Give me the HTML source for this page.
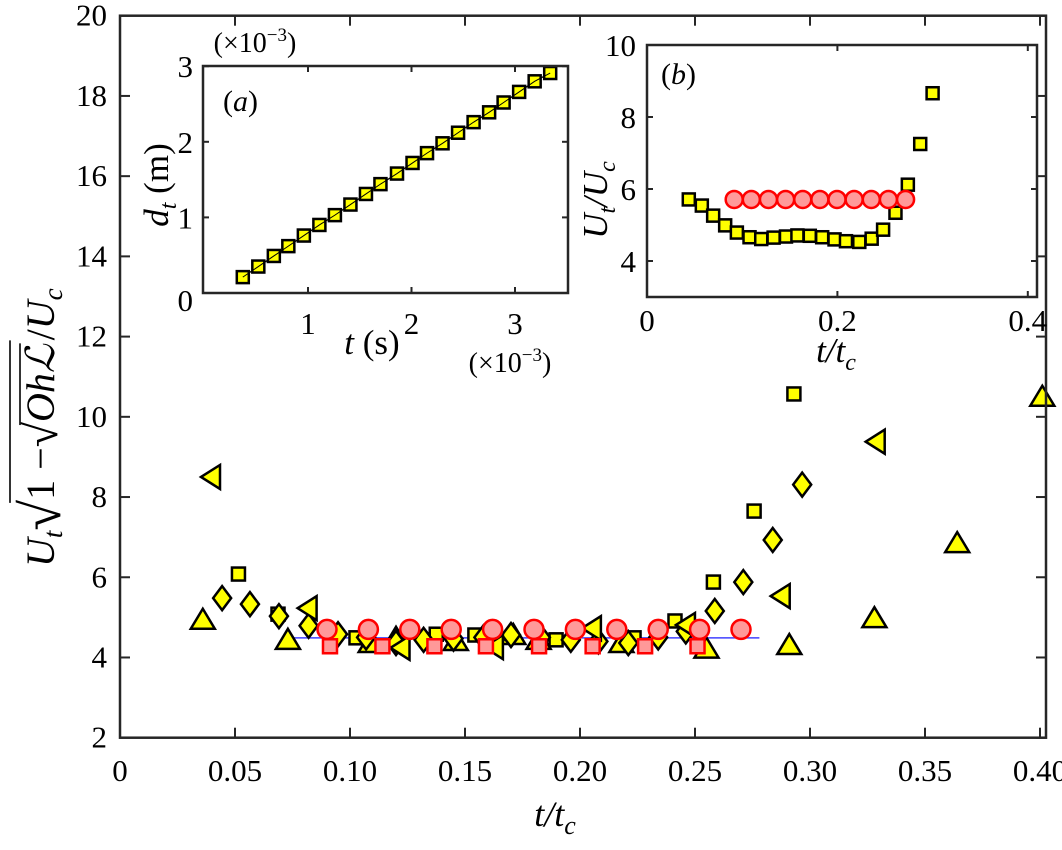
<!DOCTYPE html>
<html><head><meta charset="utf-8"><style>
body{margin:0;background:#fff}
svg, svg text{font-family:"Liberation Serif","Times New Roman","DejaVu Serif",serif}
</style></head><body>
<svg id="chart" width="1062" height="845" viewBox="0 0 1062 845" xmlns="http://www.w3.org/2000/svg">
<g id="main"></g>
<g id="insA"></g>
<g id="insB"></g>
<g id="ytitle" transform="translate(54,372) rotate(-90)" font-size="38"></g>
</svg>
<script>
// ---- main plot data ----
const triUpX=[0.036,0.073,0.109,0.120,0.146,0.171,0.182,0.218,0.255,0.291,0.328,0.364,0.401];
const triUpY=[4.94,4.44,4.36,4.49,4.41,4.56,4.44,4.36,4.22,4.31,4.98,6.85,10.5];
const sqX=[0.0515,0.0687,0.1026,0.1375,0.1543,0.1896,0.2235,0.2413,0.258,0.2757,0.293];
const sqY=[6.08,5.08,4.49,4.58,4.56,4.44,4.49,4.91,5.88,7.65,10.57];
const diaX=[0.0444,0.0565,0.0691,0.082,0.0948,0.107,0.120,0.132,0.145,0.158,0.170,0.183,0.196,0.208,0.221,0.234,0.246,0.2586,0.271,0.2838,0.2966];
const diaY=[5.48,5.33,5.03,4.79,4.58,4.50,4.36,4.44,4.47,4.50,4.56,4.50,4.44,4.40,4.36,4.50,4.65,5.16,5.88,6.93,8.31];
const triLX=[0.040,0.082,0.1224,0.163,0.2056,0.2465,0.2877,0.329];
const triLY=[8.5,5.23,4.24,4.26,4.73,4.81,5.53,9.38];
const rcX=[0.090,0.108,0.126,0.144,0.162,0.180,0.198,0.216,0.234,0.252,0.270];
const rcY=[4.70,4.70,4.70,4.70,4.70,4.70,4.70,4.70,4.70,4.70,4.70];
const rsX=[0.0913,0.1141,0.1367,0.1591,0.1822,0.2055,0.2283,0.2511];
const rsY=[4.28,4.28,4.28,4.28,4.28,4.28,4.28,4.28];
const fitX=[0.0743,0.278];
const fitY=[4.49,4.49];
const mainXTicks=[0,0.05,0.10,0.15,0.20,0.25,0.30,0.35,0.40];
const mainXLabels=["0","0.05","0.10","0.15","0.20","0.25","0.30","0.35","0.40"];
const mainYTicks=[2,4,6,8,10,12,14,16,18,20];
// ---- inset a ----
const aT=[0.37,0.52,0.67,0.81,0.96,1.11,1.26,1.41,1.56,1.70,1.86,2.01,2.15,2.30,2.45,2.60,2.75,2.89,3.04,3.19,3.34];
const aD=[0.21,0.35,0.49,0.62,0.76,0.90,1.03,1.17,1.31,1.44,1.58,1.72,1.85,1.98,2.12,2.26,2.39,2.52,2.66,2.80,2.91];
const aXTicks=[1,2,3];
const aYTicks=[1,2,3];
// ---- inset b ----
const bSqX=[0.0439,0.0576,0.0695,0.0821,0.0944,0.1077,0.120,0.133,0.146,0.158,0.171,0.184,0.197,0.209,0.223,0.236,0.248,0.261,0.274,0.287,0.300];
const bSqY=[5.71,5.54,5.26,4.99,4.79,4.66,4.61,4.65,4.68,4.71,4.70,4.66,4.60,4.55,4.53,4.62,4.87,5.34,6.12,7.25,8.66];
const bCX=[0.0916,0.1096,0.1276,0.1456,0.1636,0.1816,0.1996,0.2176,0.2356,0.2536,0.2716];
const bCY=[5.71,5.71,5.71,5.71,5.71,5.71,5.71,5.71,5.71,5.71,5.71];
const bXTicks=[0,0.2,0.4];
const bXLabels=["0","0.2","0.4"];
const bYTicks=[4,6,8,10];

const NS="http://www.w3.org/2000/svg";
function mk(tag,attrs,parent){const e=document.createElementNS(NS,tag);for(const k in attrs)e.setAttribute(k,attrs[k]);parent.appendChild(e);return e;}
const YEL="#ffff00";
function square(g,x,y,s,fill,stroke,sw,name){const e=mk('rect',{x:x-s/2,y:y-s/2,width:s,height:s,fill:fill,stroke:stroke,'stroke-width':sw},g);

}
function poly(g,pts,name){const e=mk('polygon',{points:pts.map(p=>p.join(',')).join(' '),fill:YEL,stroke:'#000','stroke-width':2.5,'stroke-linejoin':'miter'},g);

}
function circle(g,x,y,r,name){const e=mk('circle',{cx:x,cy:y,r:r,fill:'#ff9999',stroke:'#ff0000','stroke-width':2.5},g);

}
function txt(g,x,y,s,size,anchor,name,italic){const e=mk('text',{x:x,y:y,'font-size':size,'text-anchor':anchor||'middle'},g);if(italic)e.setAttribute('font-style','italic');e.textContent=s;

return e;}

// main
const M=document.getElementById('main');
const mL=120,mR=1046,mT=15.7,mB=737.7;
const X=v=>mL+2300*v, Y=v=>mB-40.11*(v-2);
mainXTicks.forEach((t,i)=>{const x=X(t);
 mk('line',{x1:x,y1:mB,x2:x,y2:mB-10,stroke:'#262626','stroke-width':2},M);
 mk('line',{x1:x,y1:mT,x2:x,y2:mT+10,stroke:'#262626','stroke-width':2},M);
 txt(M,x,781,mainXLabels[i],31,'middle','x-tick-label');});
mainYTicks.forEach(t=>{const y=Y(t);
 mk('line',{x1:mL,y1:y,x2:mL+10,y2:y,stroke:'#262626','stroke-width':2},M);
 mk('line',{x1:mR,y1:y,x2:mR-10,y2:y,stroke:'#262626','stroke-width':2},M);
 txt(M,107,y+10,String(t),31,'end','y-tick-label');});
const fl=mk('line',{x1:X(fitX[0]),y1:Y(fitY[0]),x2:X(fitX[1]),y2:Y(fitY[1]),stroke:'#4040ff','stroke-width':1.5},M);


triUpX.forEach((v,i)=>{const x=X(v),y=Y(triUpY[i]);poly(M,[[x,y-11],[x+12,y+9],[x-12,y+9]],'triangle-up-point');});
sqX.forEach((v,i)=>square(M,X(v),Y(sqY[i]),13,YEL,'#000',2.5,'square-point'));
diaX.forEach((v,i)=>{const x=X(v),y=Y(diaY[i]);poly(M,[[x,y-12],[x+9,y],[x,y+12],[x-9,y]],'diamond-point');});
triLX.forEach((v,i)=>{const x=X(v),y=Y(triLY[i]);poly(M,[[x-11,y],[x+8,y-12],[x+8,y+12]],'triangle-left-point');});
rsX.forEach((v,i)=>square(M,X(v),Y(rsY[i]),14,'#ff9999','#ff0000',2.5,'red-square-point'));
rcX.forEach((v,i)=>circle(M,X(v),Y(rcY[i]),9.5,'red-circle-point'));
mk('rect',{x:mL,y:mT,width:mR-mL,height:mB-mT,fill:'none',stroke:'#262626','stroke-width':2.5},M);
txt(M,555,826,'',36,'middle','x-axis-title',true).innerHTML='t/t<tspan font-size="26" dy="8">c</tspan>';

// y title built sequentially
const YT=document.getElementById('ytitle');
let cx=-195;
function part(s,size,italic,dy){const e=mk('text',{x:cx,y:dy||0,'font-size':size},YT);if(italic)e.setAttribute('font-style','italic');e.textContent=s;const w=e.getComputedTextLength();cx+=w;return [e,w];}
part('U',40,true);part('t',27,true,8);
part('√',56,false,6);
const o1=cx;part('1 − ',40,false);
part('√',46,false,3);const o2=cx;part('Ohℒ',40,true);const oe=cx+4;
cx+=4;part('/',40,false);part('U',40,true);part('c',27,true,8);
mk('line',{x1:o1-3,y1:-44,x2:oe,y2:-44,stroke:'#000','stroke-width':1.6},YT);
mk('line',{x1:o2-3,y1:-34,x2:oe-3,y2:-34,stroke:'#000','stroke-width':1.6},YT);

// inset a
const A=document.getElementById('insA');
const aL=203,aR=568,aTp=66,aB=293;
const AX=v=>204.5+103.5*v, AY=v=>aB-75.6*v;
mk('rect',{x:aL,y:aTp,width:aR-aL,height:aB-aTp,fill:'#fff',stroke:'none'},A);
aXTicks.forEach(t=>{const x=AX(t);
 mk('line',{x1:x,y1:aB,x2:x,y2:aB-6,stroke:'#262626','stroke-width':2},A);
 mk('line',{x1:x,y1:aTp,x2:x,y2:aTp+6,stroke:'#262626','stroke-width':2},A);
 txt(A,x,334,String(t),31,'middle','inset-a-x-tick-label');});
aYTicks.forEach(t=>{const y=AY(t);
 mk('line',{x1:aL,y1:y,x2:aL+6,y2:y,stroke:'#262626','stroke-width':2},A);
 mk('line',{x1:aR,y1:y,x2:aR-6,y2:y,stroke:'#262626','stroke-width':2},A);
 txt(A,193,y+11,String(t),31,'end','inset-a-y-tick-label');});
txt(A,193,311,'0',31,'end','inset-a-origin-label');
const al=mk('polyline',{points:aT.map((v,i)=>AX(v)+','+AY(aD[i])).join(' '),fill:'none',stroke:'#000','stroke-width':1.2},A);


aT.forEach((v,i)=>square(A,AX(v),AY(aD[i]),12,YEL,'#000',2.5,'inset-a-point'));
mk('polyline',{points:aT.map((v,i)=>AX(v)+','+AY(aD[i])).join(' '),fill:'none',stroke:'#000','stroke-width':1},A);
mk('rect',{x:aL,y:aTp,width:aR-aL,height:aB-aTp,fill:'none',stroke:'#262626','stroke-width':2.5},A);
txt(A,223,111,'',30,'start','inset-a-label').innerHTML='(<tspan font-style="italic">a</tspan>)';
txt(A,255,52,'',28,'middle','inset-a-y-multiplier').innerHTML='(×10<tspan font-size="19" dy="-11">−3</tspan><tspan dy="11">)</tspan>';
txt(A,510,372,'',28,'middle','inset-a-x-multiplier').innerHTML='(×10<tspan font-size="19" dy="-11">−3</tspan><tspan dy="11">)</tspan>';
txt(A,372,354,'',35,'middle','inset-a-x-title').innerHTML='<tspan font-style="italic">t</tspan> (s)';
const at=txt(A,0,0,'',35,'middle','inset-a-y-title');
at.setAttribute('transform','translate(168,185) rotate(-90)');
at.innerHTML='<tspan font-style="italic">d</tspan><tspan font-style="italic" font-size="24" dy="8">t</tspan><tspan dy="-8"> (m)</tspan>';

// inset b
const B=document.getElementById('insB');
const bL=647,bR=1037,bTp=45,bB=297;
const BX=v=>bL+952*v, BY=v=>bB-36*(v-3);
mk('rect',{x:bL,y:bTp,width:bR-bL,height:bB-bTp,fill:'#fff',stroke:'none'},B);
bXTicks.forEach((t,i)=>{const x=BX(t);
 mk('line',{x1:x,y1:bB,x2:x,y2:bB-6,stroke:'#262626','stroke-width':2},B);
 mk('line',{x1:x,y1:bTp,x2:x,y2:bTp+6,stroke:'#262626','stroke-width':2},B);
 txt(B,x,331,bXLabels[i],31,'middle','inset-b-x-tick-label');});
bYTicks.forEach(t=>{const y=BY(t);
 mk('line',{x1:bL,y1:y,x2:bL+6,y2:y,stroke:'#262626','stroke-width':2},B);
 mk('line',{x1:bR,y1:y,x2:bR-6,y2:y,stroke:'#262626','stroke-width':2},B);
 txt(B,636,y+11,String(t),31,'end','inset-b-y-tick-label');});
bSqX.forEach((v,i)=>square(B,BX(v),BY(bSqY[i]),12,YEL,'#000',2.5,'inset-b-square-point'));
bCX.forEach((v,i)=>circle(B,BX(v),BY(bCY[i]),8.5,'inset-b-circle-point'));
mk('rect',{x:bL,y:bTp,width:bR-bL,height:bB-bTp,fill:'none',stroke:'#262626','stroke-width':2.5},B);
txt(B,661,84,'',30,'start','inset-b-label').innerHTML='(<tspan font-style="italic">b</tspan>)';
txt(B,836,362,'',35,'middle','inset-b-x-title',true).innerHTML='t/t<tspan font-size="24" dy="8">c</tspan>';
const bt=txt(B,0,0,'',35,'middle','inset-b-y-title',true);
bt.setAttribute('transform','translate(607,200) rotate(-90)');
bt.innerHTML='U<tspan font-size="24" dy="8">t</tspan><tspan dy="-8">/U</tspan><tspan font-size="24" dy="8">c</tspan>';
</script>
</body></html>
